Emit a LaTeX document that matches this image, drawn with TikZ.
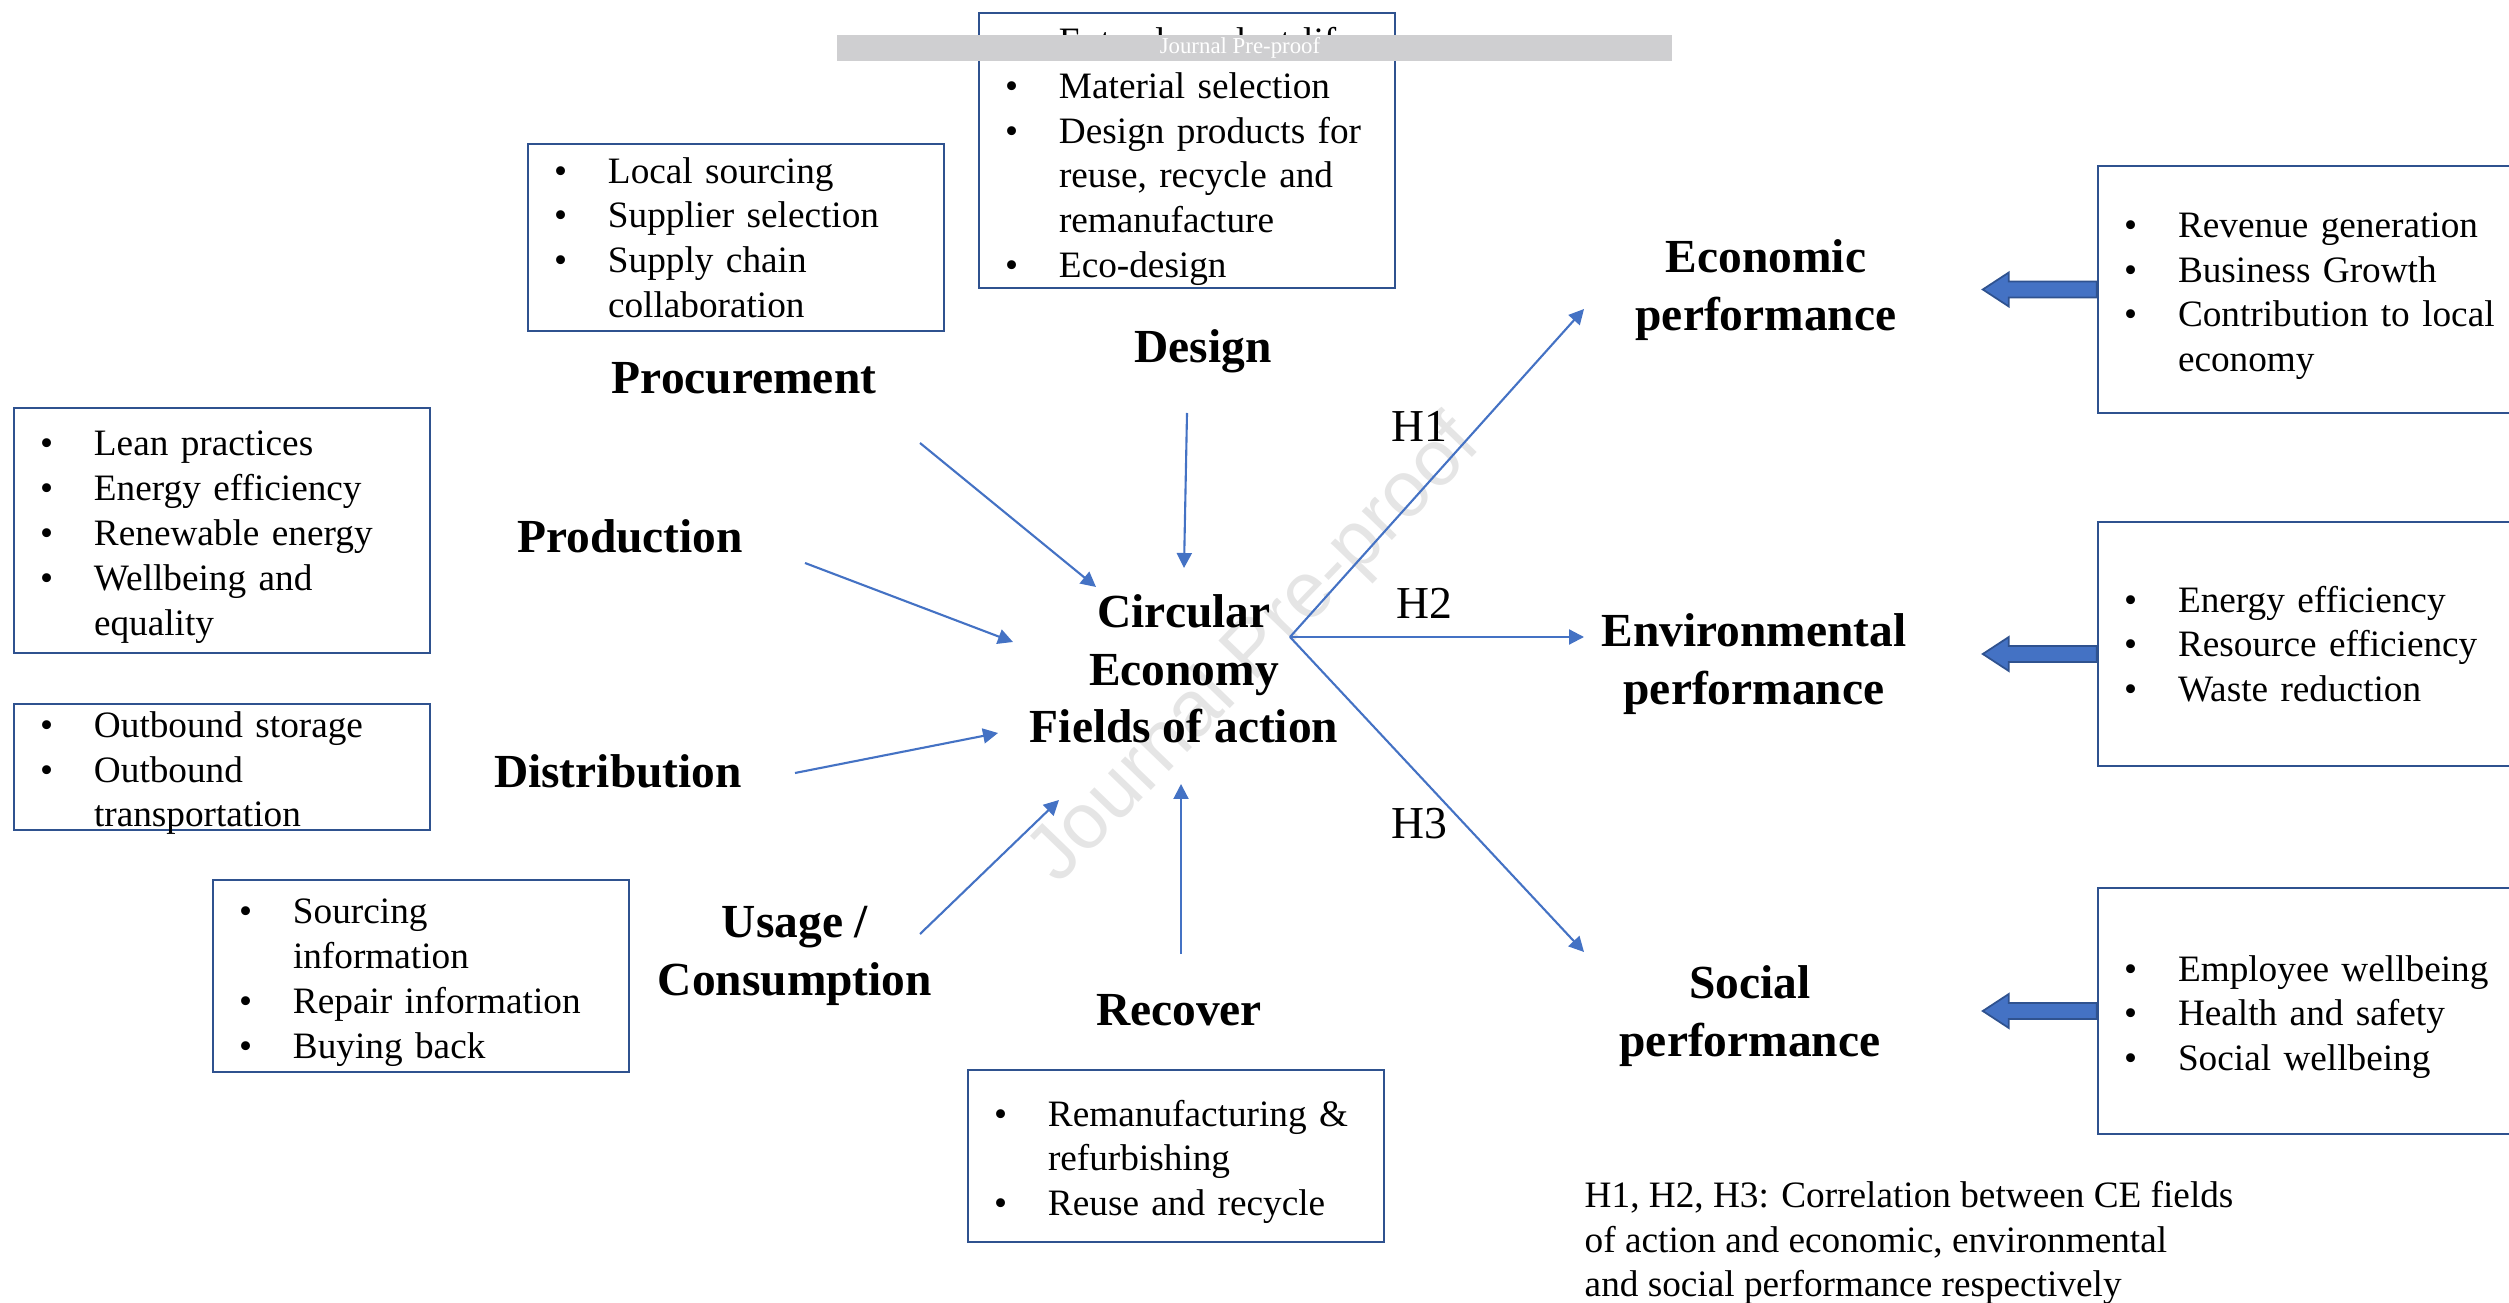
\documentclass[tikz,border=0pt]{standalone}
\usepackage{fontspec}
\setmainfont{Liberation Serif}
\setsansfont{Liberation Sans}
\usetikzlibrary{arrows.meta}

\definecolor{boxblue}{HTML}{2F528F}
\definecolor{arrblue}{HTML}{4472C4}
\definecolor{wmgray}{HTML}{CFCFD1}

% one bullet line, and the wrapped rest of it
\newcommand{\bul}[1]{\hspace*{0.26cm}\makebox[0.54cm][l]{\textbullet}#1}
\newcommand{\nxt}[1]{\hspace*{0.80cm}#1}
\newcommand{\low}{\rule{0pt}{10.8pt}}
% thick arrow pointing left out of a box
\newcommand{\blockarrow}[1]{\filldraw[blockarr] #1 ++(0,0.08) -- ++(-0.88,0) -- ++(0,0.09) -- ++(-0.26,-0.17) -- ++(0.26,-0.17) -- ++(0,0.09) -- ++(0.88,0) -- cycle;}

\tikzset{
  infobox/.style={draw=boxblue, line width=0.7pt, text width=4.16cm, inner xsep=0pt, inner ysep=0pt,
    align=left, font=\fontsize{10.6}{12.75}\selectfont},
  head/.style={font=\fontsize{13.5}{16.3}\selectfont\bfseries, align=center, inner sep=0pt},
  hyp/.style={font=\fontsize{13}{15.6}\selectfont, inner sep=0pt},
  flow/.style={draw=arrblue, line width=0.6pt, -{Triangle[length=0.15cm,width=0.15cm]}},
  blockarr/.style={fill=arrblue, draw=boxblue, line width=0.5pt}
}

\begin{document}
\begin{tikzpicture}
	\useasboundingbox (0,0) rectangle (25.09,-13.03);
	% watermark behind everything
	\node[rotate=46, text=black!10, font=\sffamily\fontsize{22.5}{23}\selectfont] (wmark) at (12.56,-6.52) {Journal Pre-proof};

	% boxes of the fields of action
	\node[infobox, minimum height=1.87cm] (procbox) at (7.36,-2.375) {\bul{Local sourcing}\\ \bul{Supplier selection}\\ \bul{Supply chain}\\ \nxt{collaboration}};
	\node[infobox, minimum height=2.75cm] (designbox) at (11.87,-1.505) {\low\bul{Extend product life}\\ \bul{Material selection}\\ \bul{Design products for}\\ \nxt{reuse, recycle and}\\ \nxt{remanufacture}\\ \bul{Eco-design}};
	\node[infobox, minimum height=2.45cm] (prodbox) at (2.22,-5.305) {\low\bul{Lean practices}\\ \bul{Energy efficiency}\\ \bul{Renewable energy}\\ \bul{Wellbeing and}\\ \nxt{equality}};
	\node[infobox, minimum height=1.26cm, inner ysep=-0.06cm] (distbox) at (2.22,-7.67) {\low\bul{Outbound storage}\\ \bul{Outbound}\\ \nxt{transportation}};
	\node[infobox, minimum height=1.92cm] (usagebox) at (4.21,-9.76) {\low\bul{Sourcing}\\ \nxt{information}\\ \bul{Repair information}\\ \bul{Buying back}};
	\node[infobox, minimum height=1.72cm] (recovbox) at (11.76,-11.56) {\low\bul{Remanufacturing \&}\\ \nxt{refurbishing}\\ \bul{Reuse and recycle}};

	% boxes of the performance
	\node[infobox, minimum height=2.47cm] (econbox) at (23.06,-2.895) {\low\bul{Revenue generation}\\ \bul{Business Growth}\\ \bul{Contribution to local}\\ \nxt{economy}};
	\node[infobox, minimum height=2.44cm] (envbox) at (23.06,-6.44) {\bul{Energy efficiency}\\ \bul{Resource efficiency}\\ \bul{Waste reduction}};
	\node[infobox, minimum height=2.46cm] (socbox) at (23.06,-10.11) {\low\bul{Employee wellbeing}\\ \bul{Health and safety}\\ \bul{Social wellbeing}};

	% grey banner over the top
	\fill[wmgray] (8.37,-0.35) rectangle (16.72,-0.61);
	\node[text=white, font=\fontsize{6.5}{7}\selectfont, inner sep=0pt] (banner) at (12.40,-0.48) {Journal Pre-proof};

	% headings
	\node[head] (ce) at (11.84,-6.69) {Circular\\Economy\\Fields of action};
	\node[head] (proc) at (7.44,-3.78) {Procurement};
	\node[head] (design) at (12.03,-3.51) {Design};
	\node[head] (prod) at (6.30,-5.36) {Production};
	\node[head] (dist) at (6.18,-7.71) {Distribution};
	\node[head] (usage) at (7.95,-9.56) {Usage /\\Consumption};
	\node[head] (recov) at (11.79,-10.10) {Recover};
	\node[head] (econ) at (17.66,-2.90) {Economic\\performance};
	\node[head] (env) at (17.54,-6.64) {Environmental\\performance};
	\node[head] (soc) at (17.50,-10.16) {Social\\performance};

	% arrow ends
	\coordinate (proc-out) at (9.20,-4.43);
	\coordinate (proc-in) at (10.96,-5.87);
	\coordinate (design-out) at (11.87,-4.13);
	\coordinate (design-in) at (11.84,-5.68);
	\coordinate (prod-out) at (8.05,-5.63);
	\coordinate (prod-in) at (10.13,-6.42);
	\coordinate (dist-out) at (7.95,-7.73);
	\coordinate (dist-in) at (9.98,-7.33);
	\coordinate (usage-out) at (9.20,-9.34);
	\coordinate (usage-in) at (10.59,-8.00);
	\coordinate (recov-out) at (11.81,-9.54);
	\coordinate (recov-in) at (11.81,-7.84);
	\coordinate (hub) at (12.90,-6.37);
	\coordinate (econ-in) at (15.84,-3.09);
	\coordinate (env-in) at (15.84,-6.37);
	\coordinate (soc-in) at (15.84,-9.52);

	\draw[flow] (proc-out) -- (proc-in);
	\draw[flow] (design-out) -- (design-in);
	\draw[flow] (prod-out) -- (prod-in);
	\draw[flow] (dist-out) -- (dist-in);
	\draw[flow] (usage-out) -- (usage-in);
	\draw[flow] (recov-out) -- (recov-in);
	\draw[flow] (hub) -- (econ-in);
	\draw[flow] (hub) -- (env-in);
	\draw[flow] (hub) -- (soc-in);

	\node[hyp] (h1) at (14.19,-4.26) {H1};
	\node[hyp] (h2) at (14.24,-6.03) {H2};
	\node[hyp] (h3) at (14.19,-8.24) {H3};

	\blockarrow{(econbox.west)}
	\blockarrow{([yshift=-0.1cm]envbox.west)}
	\blockarrow{(socbox.west)}

	\node[anchor=west, align=left, inner sep=0pt, font=\fontsize{10.6}{12.75}\selectfont] (note) at (15.84,-12.43) {H1, H2, H3: Correlation between CE fields\\of action and economic, environmental\\and social performance respectively};
\end{tikzpicture}
\end{document}
